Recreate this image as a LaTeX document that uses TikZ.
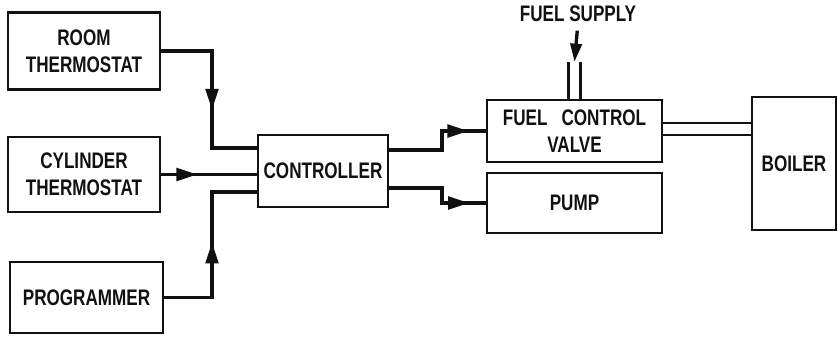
\documentclass[tikz,border=0pt]{standalone}
\usepackage{fontspec}
\usepackage{tikz}
\usetikzlibrary{arrows.meta, calc, decorations.markings}
\newfontfamily\diagfont{Liberation Sans}[FakeStretch=0.76]
\definecolor{inkBlack}{HTML}{111111}

\begin{document}
\begin{tikzpicture}[
  x=0.025cm, y=-0.025cm,
  every node/.style={font=\diagfont\bfseries\fontsize{16}{19}\selectfont, text=inkBlack},
  unitbox/.style={
    rectangle, draw=inkBlack, line width=1.5pt,
    inner sep=0pt, align=center
  },
  link/.style={draw=inkBlack, line width=2.4pt},
  pipe/.style={draw=inkBlack, line width=1.5pt},
  midarrow/.style={
    postaction={decorate},
    decoration={markings,
      mark=at position #1 with {\arrow{Triangle[length=15pt, width=9pt]}}}
  },
]
\useasboundingbox (0,0) rectangle (838,337);

% === INPUT UNITS ===
\node[unitbox, minimum width=3.8cm, minimum height=1.925cm] (room) at (84,51) {ROOM\\THERMOSTAT};
\node[unitbox, minimum width=3.8cm, minimum height=1.875cm] (cyl) at (84,174.5) {CYLINDER\\THERMOSTAT};
\node[unitbox, minimum width=3.825cm, minimum height=1.775cm] (prog) at (86.5,297.5) {PROGRAMMER};

% === CONTROLLER ===
\node[unitbox, minimum width=3.25cm, minimum height=1.8cm] (ctrl) at (323,171) {CONTROLLER};

% === OUTPUT UNITS ===
\node[unitbox, minimum width=4.375cm, minimum height=1.55cm] (fcv) at (574.5,131) {FUEL\hspace{0.35cm}CONTROL\\VALVE};
\node[unitbox, minimum width=4.375cm, minimum height=1.5cm] (pump) at (574.5,203) {PUMP};
\node[unitbox, minimum width=2.1cm, minimum height=3.325cm] (boiler) at (794,163.5) {BOILER};
\node[inner sep=0pt] (fuel) at (578,14) {FUEL SUPPLY};

% === JUNCTIONS ===
\coordinate (jin) at (212,0);
\coordinate (jout) at (442,0);
\coordinate (in1) at ($(ctrl.west)+(0,-23)$);
\coordinate (in3) at ($(ctrl.west)+(0,21)$);
\coordinate (out1) at ($(ctrl.east)+(0,-21)$);
\coordinate (out2) at ($(ctrl.east)+(0,17)$);
\coordinate (feed) at ($(fcv.north)+(0,-37)$);

% === SIGNAL LINES ===
\draw[link, midarrow=0.57] (room.east) -| (jin |- in1) -- (in1);
\draw[link, midarrow=0.38] (cyl.east) -- (cyl.east -| ctrl.west);
\draw[link, midarrow=0.52] (prog.east) -| (jin |- in3) -- (in3);
\draw[link, midarrow=0.85] (out1) -| (jout |- fcv.west) -- (fcv.west);
\draw[link, midarrow=0.85] (out2) -| (jout |- pump.west) -- (pump.west);

% === FUEL PIPES ===
\draw[link, shorten <=6pt, -{Triangle[length=13pt, width=8pt]}] (fuel.south) -- (feed);
\draw[pipe] ($(fcv.north)+(-6,0)$) -- ($(feed)+(-6,0)$);
\draw[pipe] ($(fcv.north)+(6,0)$) -- ($(feed)+(6,0)$);
\draw[pipe] ($(fcv.east)+(0,-8)$) coordinate (p1) -- (p1 -| boiler.west);
\draw[pipe] ($(fcv.east)+(0,4)$) coordinate (p2) -- (p2 -| boiler.west);

\end{tikzpicture}
\end{document}
